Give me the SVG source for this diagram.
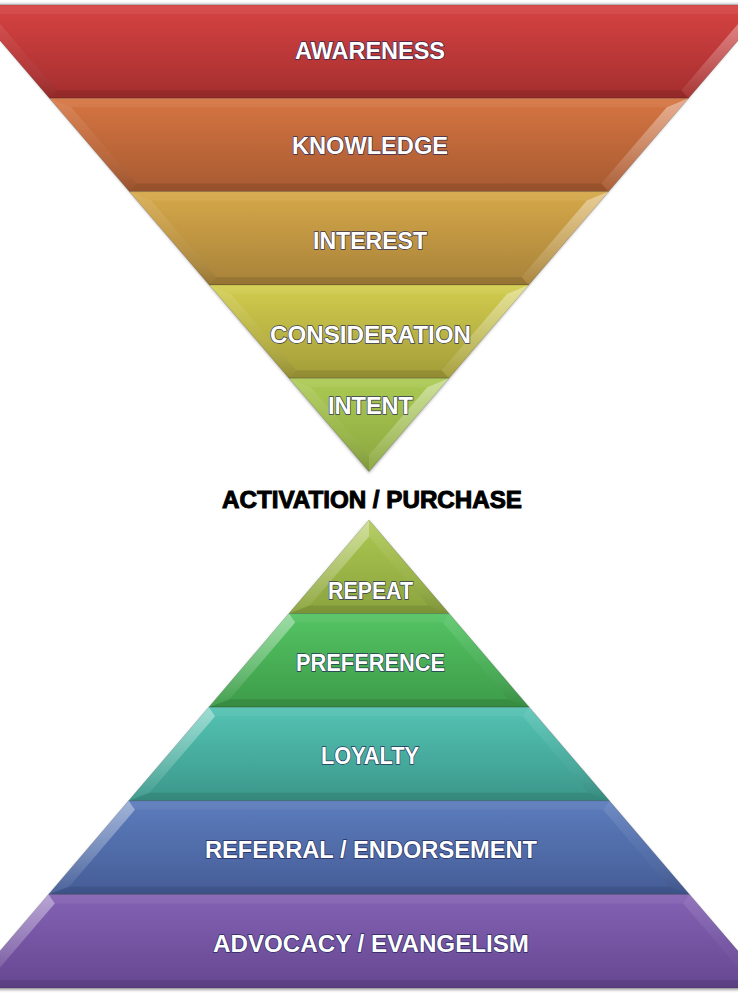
<svg xmlns="http://www.w3.org/2000/svg" width="738" height="1002" viewBox="0 0 738 1002">
  <style>
    .base { stroke: #000; stroke-opacity: 0.2; stroke-width: 0.8; }
    .ft { fill: #fff; fill-opacity: 0.06; }
    .fb { fill: #000; fill-opacity: 0.1; }
    .hl { fill: url(#hiGrad); }
    .sl { fill: url(#loGrad); }
    .lbl { font-family: "Liberation Sans", Arial, sans-serif; font-weight: bold; font-size: 24px; fill: #fff; stroke: #1c2456; stroke-width: 1.4px; stroke-opacity: 0.85; paint-order: stroke fill; text-anchor: middle; }
    .mid { font-family: "Liberation Sans", Arial, sans-serif; font-weight: bold; font-size: 24px; fill: #000; stroke: #000; stroke-width: 1px; text-anchor: middle; }
  </style>
  <defs>
    <linearGradient id="gRed" x1="0" y1="0" x2="0" y2="1"><stop offset="0" stop-color="#D74343"/><stop offset="1" stop-color="#A42E2E"/></linearGradient>
    <linearGradient id="gOrange" x1="0" y1="0" x2="0" y2="1"><stop offset="0" stop-color="#D67542"/><stop offset="1" stop-color="#A75A31"/></linearGradient>
    <linearGradient id="gGold" x1="0" y1="0" x2="0" y2="1"><stop offset="0" stop-color="#D6A849"/><stop offset="1" stop-color="#A7823A"/></linearGradient>
    <linearGradient id="gYellow" x1="0" y1="0" x2="0" y2="1"><stop offset="0" stop-color="#D2CD4E"/><stop offset="1" stop-color="#A39C39"/></linearGradient>
    <linearGradient id="gLime" x1="0" y1="0" x2="0" y2="1"><stop offset="0" stop-color="#ABCA53"/><stop offset="1" stop-color="#8AA63F"/></linearGradient>
    <linearGradient id="gLime2" x1="0" y1="0" x2="0" y2="1"><stop offset="0" stop-color="#ADC851"/><stop offset="1" stop-color="#8BA33E"/></linearGradient>
    <linearGradient id="gGreen" x1="0" y1="0" x2="0" y2="1"><stop offset="0" stop-color="#54C463"/><stop offset="1" stop-color="#3D9B49"/></linearGradient>
    <linearGradient id="gTeal" x1="0" y1="0" x2="0" y2="1"><stop offset="0" stop-color="#54C3B3"/><stop offset="1" stop-color="#3B978A"/></linearGradient>
    <linearGradient id="gBlue" x1="0" y1="0" x2="0" y2="1"><stop offset="0" stop-color="#5C7CBC"/><stop offset="1" stop-color="#455D97"/></linearGradient>
    <linearGradient id="gPurple" x1="0" y1="0" x2="0" y2="1"><stop offset="0" stop-color="#8462B4"/><stop offset="1" stop-color="#664791"/></linearGradient>
    <linearGradient id="hiGrad" x1="0" y1="0" x2="0" y2="1"><stop offset="0" stop-color="#fff" stop-opacity="0.42"/><stop offset="0.6" stop-color="#fff" stop-opacity="0.2"/><stop offset="1" stop-color="#fff" stop-opacity="0.03"/></linearGradient>
    <linearGradient id="loGrad" x1="0" y1="0" x2="0" y2="1"><stop offset="0" stop-color="#fff" stop-opacity="0.12"/><stop offset="0.55" stop-color="#fff" stop-opacity="0.03"/><stop offset="1" stop-color="#000" stop-opacity="0.1"/></linearGradient>
    <filter id="shadow" x="-10%" y="-10%" width="120%" height="120%"><feGaussianBlur stdDeviation="1.6"/></filter>
  </defs>

  <rect width="738" height="1002" fill="#fff"/>

  <!-- soft shadows -->
  <polygon points="-30.3,4 768.3,4 369,473" fill="#000" fill-opacity="0.35" filter="url(#shadow)"/>
  <polygon points="369,521 -31.6,990 769.6,990" fill="#000" fill-opacity="0.35" filter="url(#shadow)"/>

  <g id="funnel">
    <g id="awareness">
      <polygon class="base" fill="url(#gRed)" points="-30.3,5 768.3,5 688.5,98.3 49.5,98.3"/>
      <polygon class="ft" points="-30.3,5 768.3,5 746.6,14 -8.6,14"/>
      <polygon class="fb" points="56.7,90.3 681.3,90.3 688.5,98.3 49.5,98.3"/>
      <polygon class="sl" points="-30.3,5 -8.6,14 56.7,90.3 49.5,98.3"/>
      <polygon class="hl" points="768.3,5 746.6,14 681.3,90.3 688.5,98.3"/>
      <text class="lbl" x="370" y="59" textLength="150" lengthAdjust="spacingAndGlyphs">AWARENESS</text>
    </g>
    <g id="knowledge">
      <polygon class="base" fill="url(#gOrange)" points="49.5,98.3 688.5,98.3 608.6,191.6 129.4,191.6"/>
      <polygon class="ft" points="49.5,98.3 688.5,98.3 666.8,107.3 71.2,107.3"/>
      <polygon class="fb" points="136.6,183.6 601.4,183.6 608.6,191.6 129.4,191.6"/>
      <polygon class="sl" points="49.5,98.3 71.2,107.3 136.6,183.6 129.4,191.6"/>
      <polygon class="hl" points="688.5,98.3 666.8,107.3 601.4,183.6 608.6,191.6"/>
      <text class="lbl" x="370" y="154" textLength="156" lengthAdjust="spacingAndGlyphs">KNOWLEDGE</text>
    </g>
    <g id="interest">
      <polygon class="base" fill="url(#gGold)" points="129.4,191.6 608.6,191.6 528.7,284.9 209.3,284.9"/>
      <polygon class="ft" points="129.4,191.6 608.6,191.6 586.9,200.6 151.1,200.6"/>
      <polygon class="fb" points="216.4,276.9 521.6,276.9 528.7,284.9 209.3,284.9"/>
      <polygon class="sl" points="129.4,191.6 151.1,200.6 216.4,276.9 209.3,284.9"/>
      <polygon class="hl" points="608.6,191.6 586.9,200.6 521.6,276.9 528.7,284.9"/>
      <text class="lbl" x="370" y="249" textLength="114" lengthAdjust="spacingAndGlyphs">INTEREST</text>
    </g>
    <g id="consideration">
      <polygon class="base" fill="url(#gYellow)" points="209.3,284.9 528.7,284.9 448.9,378.2 289.1,378.2"/>
      <polygon class="ft" points="209.3,284.9 528.7,284.9 507,293.9 231,293.9"/>
      <polygon class="fb" points="296.3,370.2 441.7,370.2 448.9,378.2 289.1,378.2"/>
      <polygon class="sl" points="209.3,284.9 231,293.9 296.3,370.2 289.1,378.2"/>
      <polygon class="hl" points="528.7,284.9 507,293.9 441.7,370.2 448.9,378.2"/>
      <text class="lbl" x="370.5" y="343" textLength="201" lengthAdjust="spacingAndGlyphs">CONSIDERATION</text>
    </g>
    <g id="intent">
      <polygon class="base" fill="url(#gLime)" points="289.1,378.2 448.9,378.2 369,471.5"/>
      <polygon class="ft" points="289.1,378.2 448.9,378.2 427.2,387.2 310.8,387.2"/>
      <polygon class="sl" points="289.1,378.2 310.8,387.2 369,455 369,471.5"/>
      <polygon class="hl" points="448.9,378.2 427.2,387.2 369,455 369,471.5"/>
      <text class="lbl" x="370.5" y="414" textLength="85" lengthAdjust="spacingAndGlyphs">INTENT</text>
    </g>
  </g>

  <g id="activation">
    <text class="mid" x="372" y="508" textLength="300" lengthAdjust="spacingAndGlyphs">ACTIVATION / PURCHASE</text>
  </g>

  <g id="pyramid">
    <g id="repeat">
      <polygon class="base" fill="url(#gLime2)" points="369,520 449.1,613.6 288.9,613.6"/>
      <polygon class="hl" points="369,520 369,536.4 309.7,605.6 288.9,613.6"/>
      <polygon class="sl" points="369,520 369,536.4 428.3,605.6 449.1,613.6"/>
      <polygon class="fb" points="309.7,605.6 428.3,605.6 449.1,613.6 288.9,613.6"/>
      <text class="lbl" x="370.5" y="599" textLength="85" lengthAdjust="spacingAndGlyphs">REPEAT</text>
    </g>
    <g id="preference">
      <polygon class="base" fill="url(#gGreen)" points="288.9,613.6 449.1,613.6 529.2,707.2 208.8,707.2"/>
      <polygon class="ft" points="288.9,613.6 449.1,613.6 442.8,622.6 295.2,622.6"/>
      <polygon class="fb" points="229.6,699.2 508.4,699.2 529.2,707.2 208.8,707.2"/>
      <polygon class="hl" points="288.9,613.6 295.2,622.6 229.6,699.2 208.8,707.2"/>
      <polygon class="sl" points="449.1,613.6 442.8,622.6 508.4,699.2 529.2,707.2"/>
      <text class="lbl" x="370.5" y="671" textLength="149" lengthAdjust="spacingAndGlyphs">PREFERENCE</text>
    </g>
    <g id="loyalty">
      <polygon class="base" fill="url(#gTeal)" points="208.8,707.2 529.2,707.2 609.4,800.8 128.6,800.8"/>
      <polygon class="ft" points="208.8,707.2 529.2,707.2 522.9,716.2 215.1,716.2"/>
      <polygon class="fb" points="149.5,792.8 588.5,792.8 609.4,800.8 128.6,800.8"/>
      <polygon class="hl" points="208.8,707.2 215.1,716.2 149.5,792.8 128.6,800.8"/>
      <polygon class="sl" points="529.2,707.2 522.9,716.2 588.5,792.8 609.4,800.8"/>
      <text class="lbl" x="370" y="764" textLength="98" lengthAdjust="spacingAndGlyphs">LOYALTY</text>
    </g>
    <g id="referral">
      <polygon class="base" fill="url(#gBlue)" points="128.6,800.8 609.4,800.8 689.5,894.4 48.5,894.4"/>
      <polygon class="ft" points="128.6,800.8 609.4,800.8 603.1,809.8 134.9,809.8"/>
      <polygon class="fb" points="69.4,886.4 668.6,886.4 689.5,894.4 48.5,894.4"/>
      <polygon class="hl" points="128.6,800.8 134.9,809.8 69.4,886.4 48.5,894.4"/>
      <polygon class="sl" points="609.4,800.8 603.1,809.8 668.6,886.4 689.5,894.4"/>
      <text class="lbl" x="371" y="858" textLength="332" lengthAdjust="spacingAndGlyphs">REFERRAL / ENDORSEMENT</text>
    </g>
    <g id="advocacy">
      <polygon class="base" fill="url(#gPurple)" points="48.5,894.4 689.5,894.4 769.6,988 -31.6,988"/>
      <polygon class="ft" points="48.5,894.4 689.5,894.4 683.2,903.4 54.8,903.4"/>
      <polygon class="fb" points="-10.8,980 748.8,980 769.6,988 -31.6,988"/>
      <polygon class="hl" points="48.5,894.4 54.8,903.4 -10.8,980 -31.6,988"/>
      <polygon class="sl" points="689.5,894.4 683.2,903.4 748.8,980 769.6,988"/>
      <text class="lbl" x="371" y="952" textLength="316" lengthAdjust="spacingAndGlyphs">ADVOCACY / EVANGELISM</text>
    </g>
  </g>

  <g id="connectors"/>
</svg>
